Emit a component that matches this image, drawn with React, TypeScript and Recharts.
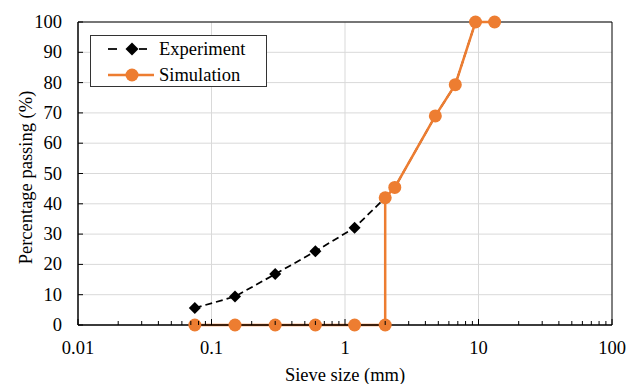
import React from 'react';
import { LineChart, Line, XAxis, YAxis, CartesianGrid, ReferenceLine } from 'recharts';

const sieveSizes = [0.075, 0.15, 0.3, 0.6, 1.18, 2, 2.36, 4.75, 6.7, 9.5, 13.2];
const experimentPassing = [5.6, 9.4, 16.8, 24.3, 32.1, 42, 45.4, 69, 79.3, 100, 100];
const simulationSizes = [0.075, 0.15, 0.3, 0.6, 1.18, 2, 2, 2.36, 4.75, 6.7, 9.5, 13.2];
const simulationPassing = [0, 0, 0, 0, 0, 0, 42, 45.4, 69, 79.3, 100, 100];

const majorXTicks = [0.01, 0.1, 1, 10, 100];
const xTickLabels = ['0.01', '0.1', '1', '10', '100'];
const minorMultipliers = [2, 3, 4, 5, 6, 7, 8, 9];
const yTicks = [0, 10, 20, 30, 40, 50, 60, 70, 80, 90, 100];

const allXTicks: number[] = [];
majorXTicks.forEach((m, i) => {
  allXTicks.push(m);
  if (i < majorXTicks.length - 1) minorMultipliers.forEach((k) => allXTicks.push(+(m * k).toPrecision(3)));
});

const experimentData = sieveSizes.map((s, i) => ({ size: s, passing: experimentPassing[i] }));
const simulationData = simulationSizes.map((s, i) => ({ size: s, passing: simulationPassing[i] }));

const ORANGE = '#ED7D31';
const FONT = '"Liberation Serif", "Times New Roman", Times, serif';
const FS = 18.5;
const textStyle = { fontFamily: FONT, fontSize: FS } as React.CSSProperties;

const XTick = (props: any) => {
  const { x, y, payload } = props;
  const v = payload.value;
  const idx = majorXTicks.findIndex((m) => Math.abs(m - v) / m < 1e-6);
  const isMajor = idx >= 0;
  return (
    <g>
      <line x1={x} y1={y} x2={x} y2={y - (isMajor ? 6 : 4)} stroke="#000" strokeWidth={1} />
      {isMajor && (
        <text x={x} y={y + 23} textAnchor="middle" dominantBaseline="central" fontFamily={FONT} fontSize={FS} style={textStyle} fill="#000">
          {xTickLabels[idx]}
        </text>
      )}
    </g>
  );
};

const YTick = (props: any) => {
  const { x, y, payload } = props;
  return (
    <g>
      <line x1={x} y1={y} x2={x + 5} y2={y} stroke="#000" strokeWidth={1} />
      <text x={x - 16} y={y} textAnchor="end" dominantBaseline="central" fontFamily={FONT} fontSize={FS} style={textStyle} fill="#000">
        {payload.value}
      </text>
    </g>
  );
};

const Diamond = (props: any) => {
  const { cx, cy } = props;
  if (cx == null || cy == null) return null;
  const r = 6;
  return <path d={`M${cx},${cy - r}L${cx + r},${cy}L${cx},${cy + r}L${cx - r},${cy}Z`} fill="#000" />;
};

const LegendBox = () => (
  <div
    style={{
      position: 'absolute',
      left: 90,
      top: 35,
      width: 177,
      height: 52,
      border: '1px solid #333',
      background: '#fff',
      boxSizing: 'border-box',
      fontFamily: FONT,
      fontSize: FS,
      color: '#000',
    }}
  >
    <svg width={70} height={50} style={{ position: 'absolute', left: 0, top: 0 }}>
      <line x1={17} y1={13} x2={26} y2={13} stroke="#000" strokeWidth={1.75} />
      <line x1={48} y1={13} x2={56} y2={13} stroke="#000" strokeWidth={1.75} />
      <path d="M41,6.5L47.5,13L41,19.5L34.5,13Z" fill="#000" />
      <line x1={17} y1={39} x2={63} y2={39} stroke={ORANGE} strokeWidth={2.5} />
      <circle cx={41} cy={39} r={6.5} fill={ORANGE} />
    </svg>
    <div style={{ position: 'absolute', left: 68, top: 13, transform: 'translateY(-50%)', lineHeight: 1, whiteSpace: 'nowrap' }}>Experiment</div>
    <div style={{ position: 'absolute', left: 68, top: 39, transform: 'translateY(-50%)', lineHeight: 1, whiteSpace: 'nowrap' }}>Simulation</div>
  </div>
);

export default function App() {
  return (
    <div style={{ position: 'absolute', left: 0, top: 0, width: 628, height: 384, background: '#fff' }}>
      <LineChart width={628} height={384} margin={{ top: 22, right: 16, bottom: 0, left: 0 }}>
        <CartesianGrid vertical={false} stroke="#d9d9d9" strokeWidth={1} />
        {[0.1, 1, 10].map((v) => (
          <ReferenceLine key={v} x={v} stroke="#d9d9d9" strokeWidth={1} />
        ))}
        <ReferenceLine y={100} stroke="#000" strokeWidth={1} />
        <ReferenceLine x={100} stroke="#000" strokeWidth={1} />
        <XAxis
          dataKey="size"
          type="number"
          scale="log"
          domain={[0.01, 100]}
          ticks={allXTicks}
          interval={0}
          tick={<XTick />}
          tickLine={false}
          tickSize={0}
          tickMargin={0}
          axisLine={{ stroke: '#000', strokeWidth: 1.5 }}
          height={59}
          label={{
            content: (p: any) => {
              const vb = p.viewBox;
              return (
                <text x={vb.x + vb.width / 2} y={381} textAnchor="middle" fontFamily={FONT} fontSize={FS} style={textStyle} fill="#000">
                  Sieve size (mm)
                </text>
              );
            },
          }}
        />
        <YAxis
          type="number"
          domain={[0, 100]}
          ticks={yTicks}
          interval={0}
          tick={<YTick />}
          tickLine={false}
          tickSize={0}
          tickMargin={0}
          axisLine={{ stroke: '#000', strokeWidth: 1.5 }}
          width={78}
          label={{
            content: (p: any) => {
              const vb = p.viewBox;
              const cy = vb.y + vb.height / 2 + 4;
              return (
                <text x={31.5} y={cy} transform={`rotate(-90, 31.5, ${cy})`} textAnchor="middle" fontFamily={FONT} fontSize={FS} style={textStyle} fill="#000">
                  Percentage passing (%)
                </text>
              );
            },
          }}
        />
        <Line
          data={experimentData}
          dataKey="passing"
          name="Experiment"
          stroke="#000"
          strokeWidth={1.75}
          strokeDasharray="7 4"
          dot={<Diamond />}
          activeDot={false}
          isAnimationActive={false}
        />
        <Line
          data={simulationData}
          dataKey="passing"
          name="Simulation"
          stroke={ORANGE}
          strokeWidth={2.5}
          dot={{ r: 6.5, fill: ORANGE, stroke: 'none' }}
          activeDot={false}
          isAnimationActive={false}
        />
      </LineChart>
      <LegendBox />
    </div>
  );
}
